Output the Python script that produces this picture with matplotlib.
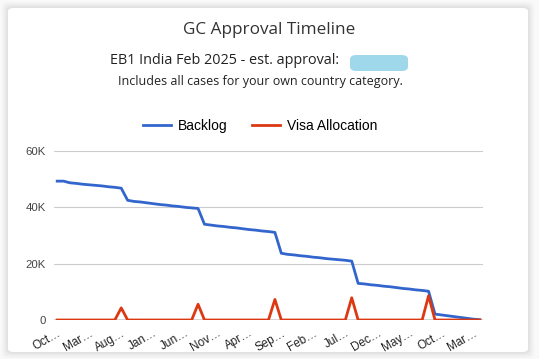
import numpy as np
import matplotlib.pyplot as plt
from matplotlib.patches import FancyBboxPatch
from matplotlib.lines import Line2D

# monthly data, Oct .. Apr (67 months)
backlog = [49.3, 49.3, 48.7, 48.5, 48.2, 48.0, 47.8, 47.6, 47.3, 47.1, 46.8,
           42.5, 42.1, 41.9, 41.6, 41.3, 41.0, 40.8, 40.5, 40.3, 40.0, 39.8, 39.6,
           34.0, 33.7, 33.4, 33.2, 32.9, 32.7, 32.4, 32.1, 31.9, 31.6, 31.4, 31.1,
           23.7, 23.3, 23.1, 22.8, 22.6, 22.3, 22.1, 21.8, 21.6, 21.4, 21.2, 20.9,
           13.0, 12.8, 12.5, 12.3, 12.0, 11.8, 11.5, 11.2, 11.0, 10.7, 10.5, 10.2,
           2.1, 1.8, 1.5, 1.2, 0.9, 0.6, 0.3, 0.1]
visa = [0.0] * 67
spike_months = [10, 22, 34, 46, 58]
spike_values = [4.3, 5.6, 7.3, 7.9, 8.6]
for m, v in zip(spike_months, spike_values):
    visa[m] = v
backlog = np.array(backlog) * 1000
visa = np.array(visa) * 1000

tick_labels = ["Oct…", "Mar…", "Aug…", "Jan…", "Jun…", "Nov…", "Apr…",
               "Sep…", "Feb…", "Jul…", "Dec…", "May…", "Oct…", "Mar…"]
y_ticks = [0, 20000, 40000, 60000]
y_labels = ["0", "20K", "40K", "60K"]

W, H = 539, 359
fig = plt.figure(figsize=(W / 100, H / 100), dpi=100)
fig.patch.set_facecolor('#f9f9f9')

# card with a soft shadow
for i, a in enumerate([0.02, 0.02, 0.025, 0.03]):
    pad = (4 - i) * 1.5
    fig.patches.append(FancyBboxPatch(((8 - pad) / W, (7 - pad) / H), (520 + 2 * pad) / W, (344 + 2 * pad) / H,
                                      boxstyle="round,pad=0,rounding_size=0.012",
                                      transform=fig.transFigure, facecolor='black', alpha=a,
                                      edgecolor='none', zorder=-2))
fig.patches.append(FancyBboxPatch((8 / W, 7 / H), 520 / W, 344 / H,
                                  boxstyle="round,pad=0,rounding_size=0.01",
                                  transform=fig.transFigure, facecolor='white',
                                  edgecolor='none', zorder=-1))

fig.text(269 / W, 1 - 30 / H, "GC Approval Timeline", ha='center', va='center',
         fontsize=12.3, color='#333333', family='Open Sans')
fig.text(225 / W, 1 - 61 / H, "EB1 India Feb 2025 - est. approval:", ha='center', va='center',
         fontsize=10.4, color='#222222', family='Open Sans')
fig.patches.append(FancyBboxPatch((350 / W, 1 - 71 / H), 58 / W, 16 / H,
                                  boxstyle="round,pad=0,rounding_size=0.012",
                                  transform=fig.transFigure, facecolor='#9fd8ea',
                                  edgecolor='none', zorder=2))
fig.text(260 / W, 1 - 82 / H, "Includes all cases for your own country category.",
         ha='center', va='center', fontsize=9.0, color='#222222', family='Open Sans')

ax = fig.add_axes([54 / W, 1 - 320 / H, 429 / W, 169 / H])
ax.set_zorder(5)
ax.set_facecolor('none')
x = np.arange(len(backlog))
ax.plot(x, backlog, color='#3366cc', lw=2.0, label='Backlog', zorder=3)
ax.plot(x, visa, color='#dc3912', lw=2.0, label='Visa Allocation', zorder=4)

ax.set_xlim(-0.5, len(backlog) - 0.5)
ax.set_ylim(0, 60000)
ax.set_yticks(y_ticks)
ax.set_yticklabels(y_labels, fontsize=8.2, color='#444444', family='Liberation Sans')
ax.set_xticks(np.arange(0, len(backlog), 5))
ax.set_xticklabels(tick_labels, rotation=30, ha='right', rotation_mode='anchor',
                   fontsize=8.5, color='#222222', family='Liberation Sans')
ax.tick_params(length=0, pad=5)
ax.tick_params(axis='y', pad=6)
ax.grid(axis='y', color='#cccccc', lw=0.8)
ax.axhline(0, color='#333333', lw=1, zorder=2)
for s in ax.spines.values():
    s.set_visible(False)

handles = [Line2D([], [], color='#3366cc', lw=2.0), Line2D([], [], color='#dc3912', lw=2.0)]
fig.legend(handles, ['Backlog', 'Visa Allocation'], loc='center', bbox_to_anchor=(260 / W, 1 - 126 / H),
           ncol=2, frameon=False, prop={'family': 'Liberation Sans', 'size': 10},
           handlelength=2.0, handletextpad=0.5, columnspacing=1.8)

fig.savefig('out.png', dpi=100, facecolor=fig.get_facecolor())
